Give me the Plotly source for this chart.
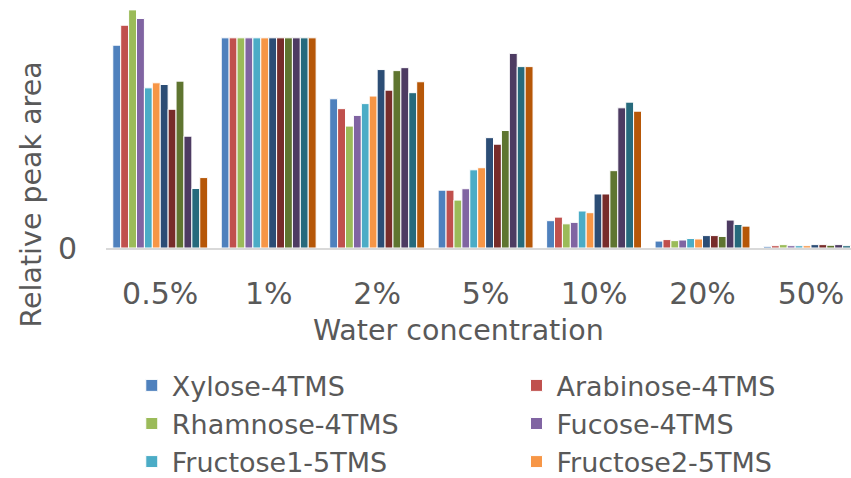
import plotly.graph_objects as go

categories = ["0.5%", "1%", "2%", "5%", "10%", "20%", "50%"]

series_names = [
    "Xylose-4TMS", "Arabinose-4TMS", "Rhamnose-4TMS", "Fucose-4TMS",
    "Fructose1-5TMS", "Fructose2-5TMS",
    "Galactose1-5TMS", "Galactose2-5TMS", "Glucose1-5TMS", "Glucose2-5TMS",
    "Mannose1-5TMS", "Mannose2-5TMS",
]

colors = [
    "#4F81BD", "#C0504D", "#9BBB59", "#8064A2", "#4BACC6", "#F79646",
    "#2C4D75", "#772C2A", "#5F7530", "#4D3B62", "#276A7C", "#B65708",
]

xylose      = [0.965, 1.0, 0.710, 0.275, 0.130, 0.033, 0.008]
arabinose   = [1.060, 1.0, 0.663, 0.275, 0.147, 0.040, 0.011]
rhamnose    = [1.133, 1.0, 0.580, 0.228, 0.115, 0.035, 0.016]
fucose      = [1.092, 1.0, 0.631, 0.282, 0.122, 0.038, 0.011]
fructose1   = [0.762, 1.0, 0.687, 0.372, 0.176, 0.045, 0.011]
fructose2   = [0.786, 1.0, 0.723, 0.382, 0.168, 0.043, 0.011]
galactose1  = [0.778, 1.0, 0.849, 0.525, 0.257, 0.059, 0.016]
galactose2  = [0.660, 1.0, 0.751, 0.494, 0.257, 0.059, 0.016]
glucose1    = [0.794, 1.0, 0.844, 0.559, 0.368, 0.055, 0.013]
glucose2    = [0.532, 1.0, 0.858, 0.926, 0.667, 0.133, 0.016]
mannose1    = [0.283, 1.0, 0.739, 0.863, 0.694, 0.112, 0.011]
mannose2    = [0.335, 1.0, 0.791, 0.863, 0.651, 0.104, 0.011]

series_values = [xylose, arabinose, rhamnose, fucose, fructose1, fructose2,
                 galactose1, galactose2, glucose1, glucose2, mannose1, mannose2]

FONT = "DejaVu Sans"
GREY = "#595959"

fig = go.Figure()
for i, (name, vals) in enumerate(zip(series_names, series_values)):
    fig.add_trace(go.Bar(
        x=categories, y=vals, name=name,
        marker=dict(color=colors[i], line=dict(color="white", width=1)),
        showlegend=(i < 6),
        legend="legend" if i % 2 == 0 else "legend2",
        legendgroup=name,
    ))

legend_common = dict(
    orientation="v", yanchor="top", xanchor="left", y=-0.457,
    font=dict(size=27, color=GREY), traceorder="normal",
    tracegroupgap=5, bgcolor="rgba(0,0,0,0)",
)

fig.update_layout(
    width=851, height=478,
    margin=dict(l=106, r=0, t=0, b=230, autoexpand=False),
    paper_bgcolor="white", plot_bgcolor="white",
    barmode="group", bargap=0.125, bargroupgap=0,
    font=dict(family=FONT, color=GREY),
    xaxis=dict(
        range=[-0.5, 6.369], showgrid=False, zeroline=False,
        showline=True, linecolor="#D9D9D9", linewidth=2,
        ticks="", tickfont=dict(size=30, color=GREY),
        ticklabelstandoff=18, automargin=False,
    ),
    yaxis=dict(
        range=[0, 1.18], showgrid=False, zeroline=False, showline=False,
        tickvals=[0], ticktext=["0"], ticks="", automargin=False,
        tickfont=dict(size=30, color=GREY), ticklabelstandoff=28,
    ),
    legend=dict(x=0.0346, **legend_common),
    legend2=dict(x=0.551, **legend_common),
    annotations=[
        dict(text="Relative peak area", xref="paper", yref="paper",
             x=-0.1003, y=0.2168, xanchor="center", yanchor="middle",
             textangle=-90, showarrow=False, font=dict(size=28.5, color=GREY)),
        dict(text="Water concentration", xref="paper", yref="paper",
             x=0.4727, y=-0.332, xanchor="center", yanchor="middle",
             showarrow=False, font=dict(size=28.5, color=GREY)),
    ],
)

fig.write_html("out.html")
